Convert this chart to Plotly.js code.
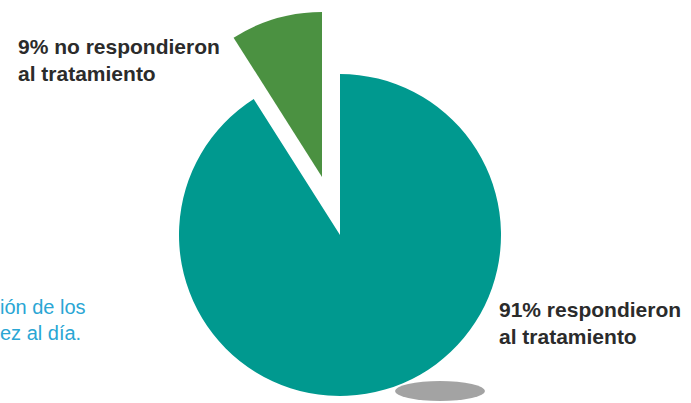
<!DOCTYPE html>
<html>
<head>
<meta charset="utf-8">
<script src="https://cdn.plot.ly/plotly-3.0.1.min.js"></script>
<style>html,body{margin:0;padding:0;background:#fff;}#chart{width:691px;height:403px;}</style>
</head>
<body>
<div id="chart"></div>
<script>
// Data
const categories = ["respondieron al tratamiento", "no respondieron al tratamiento"];
const values = [91, 9];
const labelTexts = ["91% respondieron<br>al tratamiento", "9% no respondieron<br>al tratamiento"];
const sideText = "ión de los<br>ez al día.";

const W = 691, H = 403;
const TEAL = "#00998f", GREEN = "#4b9141";

function dom(cx, cy, r) {
  return { x: [(cx - r) / W, (cx + r) / W], y: [1 - (cy + r) / H, 1 - (cy - r) / H] };
}

const base = {
  type: "pie",
  labels: categories,
  values: values,
  sort: false,
  direction: "clockwise",
  rotation: 0,
  textinfo: "none",
  showlegend: false,
  hoverinfo: "label+percent"
};

const mainPie = Object.assign({}, base, {
  domain: dom(340, 235, 161),
  marker: { colors: [TEAL, "rgba(0,0,0,0)"], line: { width: 0 } }
});
const pulledPie = Object.assign({}, base, {
  domain: dom(322, 177, 165),
  marker: { colors: ["rgba(0,0,0,0)", GREEN], line: { width: 0 } }
});

const labelFont = { family: "Liberation Sans, Arial, sans-serif", size: 21, color: "#2b2b2b", weight: "bold" };

const layout = {
  width: W, height: H,
  margin: { l: 0, r: 0, t: 0, b: 0 },
  paper_bgcolor: "#ffffff",
  plot_bgcolor: "#ffffff",
  font: { family: "Liberation Sans, Arial, sans-serif" },
  shapes: [{
    type: "circle", xref: "paper", yref: "paper", layer: "below",
    x0: 395 / W, x1: 485 / W, y0: 1 - 401 / H, y1: 1 - 381 / H,
    fillcolor: "rgba(50,50,50,0.45)", line: { width: 0 }
  }],
  annotations: [
    { xref: "paper", yref: "paper", x: 16 / W, y: 1 - 33 / H, xanchor: "left", yanchor: "top",
      align: "left", showarrow: false, text: labelTexts[1], font: labelFont },
    { xref: "paper", yref: "paper", x: 497 / W, y: 1 - 296 / H, xanchor: "left", yanchor: "top",
      align: "left", showarrow: false, text: labelTexts[0], font: labelFont },
    { xref: "paper", yref: "paper", x: -2 / W, y: 1 - 294 / H, xanchor: "left", yanchor: "top",
      align: "left", showarrow: false, text: sideText,
      font: { family: "Liberation Sans, Arial, sans-serif", size: 20, color: "#2aa6d4" } }
  ]
};

Plotly.newPlot("chart", [mainPie, pulledPie], layout, { displayModeBar: false, staticPlot: true });
</script>
</body>
</html>
